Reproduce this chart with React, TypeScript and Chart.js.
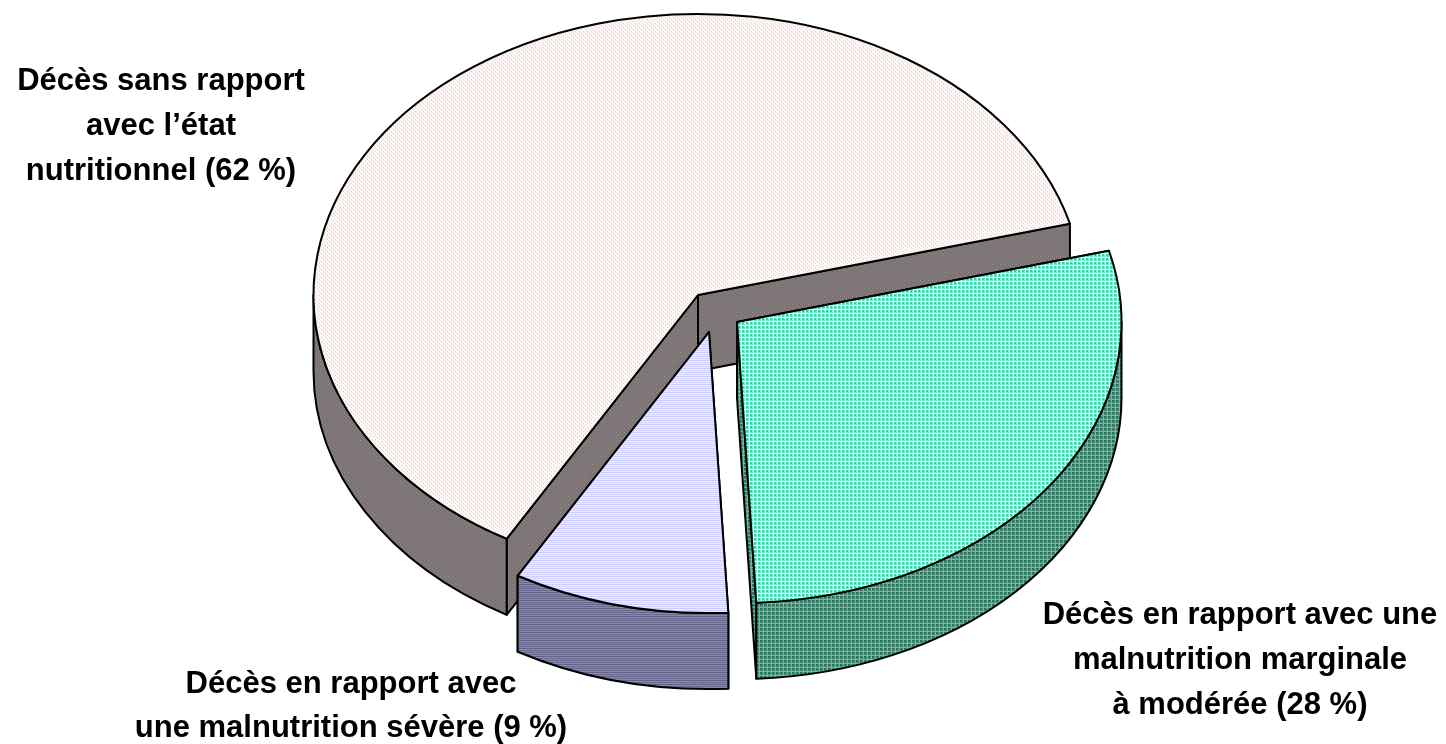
import React, { useEffect, useRef } from "react";
import { Chart, registerables } from "chart.js";

Chart.register(...registerables);

const categories = [
  "Décès en rapport avec une malnutrition marginale à modérée (28 %)",
  "Décès en rapport avec une malnutrition sévère (9 %)",
  "Décès sans rapport avec l’état nutritionnel (62 %)",
];
const values = [28, 9, 62];

const labelLinesMarginal = ["Décès en rapport avec une", "malnutrition marginale", "à modérée (28 %)"];
const labelLinesSevere = ["Décès en rapport avec", "une malnutrition sévère (9 %)"];
const labelLinesOther = ["Décès sans rapport", "avec l’état", "nutritionnel (62 %)"];

const CX = 698;
const CY = 295;
const RX = 384.5;
const TILT = 0.731;
const DEPTH = 76;
const explode = [
  [39, 27],
  [11, 37],
  [0, 0],
];
const drawOrder = [2, 1, 0];

function tile(paint: (c: CanvasRenderingContext2D) => void): CanvasPattern {
  const cv = document.createElement("canvas");
  cv.width = 4;
  cv.height = 4;
  const c = cv.getContext("2d")!;
  paint(c);
  const main = document.createElement("canvas").getContext("2d")!;
  const p = main.createPattern(cv, "repeat")!;
  return p;
}

function dots(base: string, dot: string) {
  return tile((c) => {
    c.fillStyle = base;
    c.fillRect(0, 0, 4, 4);
    c.fillStyle = dot;
    c.fillRect(0, 0, 1, 1);
    c.fillRect(2, 2, 1, 1);
  });
}
function checks(cell: string, soft: string, line: string) {
  return tile((c) => {
    c.fillStyle = cell;
    c.fillRect(0, 0, 4, 4);
    c.fillStyle = soft;
    c.fillRect(2, 0, 1, 4);
    c.fillRect(0, 2, 4, 1);
    c.fillStyle = line;
    c.fillRect(3, 0, 1, 4);
    c.fillRect(0, 3, 4, 1);
  });
}
function rows(a: string, b: string, d: string, e: string) {
  return tile((c) => {
    [a, b, d, e].forEach((col, i) => {
      c.fillStyle = col;
      c.fillRect(0, i, 4, 1);
    });
  });
}

export default function App() {
  const ref = useRef<HTMLCanvasElement>(null);

  useEffect(() => {
    const topFill = [
      checks("#1fd3a0", "#6fe4c4", "#ffffff"),
      rows("#c8c8ff", "#f0f0ff", "#d2d2ff", "#eeeeff"),
      dots("#fff6f6", "#ffb8c0"),
    ];
    topFill.forEach((p) => p.setTransform(new DOMMatrix().scale(1, 1 / TILT)));
    const sideFill = [
      checks("#1e7a5e", "#4a8a74", "#98a49e"),
      rows("#62628a", "#8e8e9c", "#68688c", "#8a8a9a"),
      dots("#7c7474", "#948c8c"),
    ];

    const pie3d = {
      id: "pie3d",
      beforeDatasetDraw(chart: any) {
        const ctx: CanvasRenderingContext2D = chart.ctx;
        const arcs = chart.getDatasetMeta(0).data;
        ctx.lineWidth = 2;
        ctx.strokeStyle = "#000";
        ctx.lineJoin = "round";
        for (const i of drawOrder) {
          const el = arcs[i];
          const cx = CX + explode[i][0];
          const cy = CY + explode[i][1];
          const rx = el.outerRadius;
          const ry = rx * TILT;
          const a0 = el.startAngle;
          const a1 = el.endAngle;

          // radial walls
          ctx.fillStyle = sideFill[i];
          for (const a of [a0, a1]) {
            const ex = cx + rx * Math.cos(a);
            const ey = cy + ry * Math.sin(a);
            ctx.beginPath();
            ctx.moveTo(cx, cy);
            ctx.lineTo(ex, ey);
            ctx.lineTo(ex, ey + DEPTH);
            ctx.lineTo(cx, cy + DEPTH);
            ctx.closePath();
            ctx.fill();
            ctx.stroke();
          }

          // outer rim, front half of the ellipse only
          for (const shift of [0, Math.PI * 2]) {
            const from = Math.max(a0, shift);
            const to = Math.min(a1, shift + Math.PI);
            if (to <= from) continue;
            ctx.beginPath();
            ctx.ellipse(cx, cy, rx, ry, 0, from, to);
            ctx.ellipse(cx, cy + DEPTH, rx, ry, 0, to, from, true);
            ctx.closePath();
            ctx.fill();
            ctx.stroke();
          }

          // top face, drawn by the library's arc element
          ctx.save();
          ctx.translate(cx, cy);
          ctx.scale(1, TILT);
          ctx.translate(-el.x, -el.y);
          el.draw(ctx);
          ctx.restore();

          ctx.beginPath();
          ctx.moveTo(cx, cy);
          ctx.ellipse(cx, cy, rx, ry, 0, a0, a1);
          ctx.closePath();
          ctx.stroke();
        }
        return false;
      },
      afterDraw(chart: any) {
        const ctx: CanvasRenderingContext2D = chart.ctx;
        ctx.save();
        ctx.fillStyle = "#000";
        ctx.font = 'bold 31px "Liberation Sans", Arial, sans-serif';
        ctx.textAlign = "center";
        ctx.textBaseline = "alphabetic";
        const block = (lines: string[], x: number, y: number, step: number) =>
          lines.forEach((t, k) => ctx.fillText(t, x, y + k * step));
        block(labelLinesOther, 161, 90, 45);
        block(labelLinesMarginal, 1240, 624, 45);
        block(labelLinesSevere, 351, 693, 44);
        ctx.restore();
      },
    };

    const chart = new Chart(ref.current!, {
      type: "pie",
      data: {
        labels: categories,
        datasets: [
          {
            data: values,
            backgroundColor: topFill,
            borderWidth: 0,
            radius: RX,
          } as any,
        ],
      },
      options: {
        responsive: false,
        animation: false,
        rotation: 75.3,
        plugins: { legend: { display: false }, tooltip: { enabled: false } },
      },
      plugins: [pie3d as any],
    });
    return () => chart.destroy();
  }, []);

  return (
    <div style={{ position: "absolute", left: 0, top: 0, width: 1446, height: 744, background: "#fff" }}>
      <canvas ref={ref} width={1446} height={744} style={{ display: "block" }} />
    </div>
  );
}
